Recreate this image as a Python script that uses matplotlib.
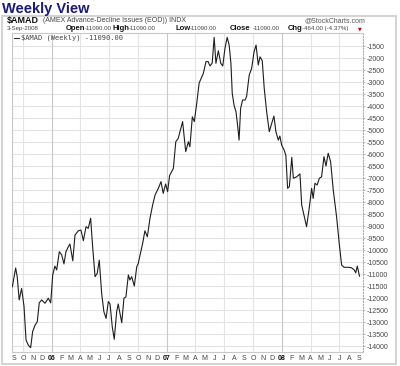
#!/usr/bin/env python3
"""
Weekly view of $AMAD (AMEX Advance-Decline Issues) in the StockCharts style
"""
import numpy as np
import pandas as pd
import matplotlib
matplotlib.use('Agg')
import matplotlib.pyplot as plt
from matplotlib.patches import Rectangle

plt.rcParams['font.family'] = ['Liberation Sans', 'DejaVu Sans']
plt.rcParams['axes.unicode_minus'] = False

# weeks after 26-Aug-2005 and the index level
weeks = [0.3, 1.8, 2.5, 3.4, 4.5, 5.6, 6.5, 7.5, 8.6, 9.5, 10.6, 11.6, 12.5, 13.6,
         15.1, 16.6, 17.7, 18.6, 19.6, 20.4, 21.6, 22.7, 23.7, 24.6, 25.7, 26.4,
         27.7, 28.7, 30.2, 31.4, 32.5, 33.7, 34.7, 35.8, 36.7, 37.8, 38.8, 39.7,
         40.8, 41.8, 42.8, 43.8, 44.6, 45.6, 46.5, 47.6, 48.3, 49.1, 49.9, 50.9,
         51.8, 52.9, 53.6, 54.4, 55.6, 56.7, 57.4, 58.2, 59.4, 60.4, 61.5, 62.7,
         63.9, 65.0, 66.5, 67.7, 68.7, 69.8, 70.7, 71.6, 73.3, 74.4, 75.5, 77.5,
         78.9, 80.1, 80.8, 81.9, 82.8, 83.9, 85.0, 86.9, 88.1, 89.1, 89.9, 90.9,
         91.8, 92.6, 93.7, 94.8, 95.7, 96.7, 97.7, 98.6, 99.4, 100.0, 100.8, 101.7,
         102.5, 103.1, 103.8, 104.7, 105.8, 106.5, 107.7, 108.8, 109.9, 110.8,
         111.8, 112.6, 113.6, 114.5, 115.6, 116.8, 117.9, 118.9, 119.8, 120.9,
         121.6, 122.4, 123.5, 124.3, 125.1, 125.9, 127.0, 127.7, 129.2, 130.7,
         131.5, 132.7, 133.7, 134.9, 136.0, 136.7, 137.5, 138.5, 139.5, 140.5,
         141.6, 142.5, 143.5, 144.6, 145.8, 147.3, 148.5, 149.6, 150.7, 152.6,
         154.1, 155.3, 156.0, 156.7, 157.7]
amad = [-11530, -10750, -11110, -12080, -11600, -12360, -13750, -13960, -14070, -13400,
        -13130, -12990, -12200, -12080, -12220, -12010, -12200, -11040, -10670, -10830,
        -10070, -10210, -10580, -10070, -9860, -9750, -10450, -9380, -9200, -9170,
        -9610, -9030, -9100, -8680, -9860, -11110, -10970, -10420, -11810, -12570,
        -12850, -12150, -12250, -13200, -13720, -12570, -12250, -12640, -13030, -12010,
        -11950, -11040, -11250, -11110, -11500, -10700, -10560, -10210, -9720, -9200,
        -9450, -8680, -8130, -7710, -7430, -7150, -7640, -7250, -7570, -6900,
        -6600, -5490, -5350, -4650, -5900, -5490, -5700, -4450, -4650, -3890,
        -3040, -2640, -2150, -2150, -2330, -2220, -1140, -2220, -1700, -2220,
        -2330, -1600, -1140, -1460, -2220, -3470, -3960, -4240, -4860, -5420,
        -4100, -3750, -3750, -3610, -2710, -2430, -1740, -1460, -2290, -1950,
        -2110, -3260, -4240, -5070, -4720, -4420, -5070, -5420, -5250, -5630,
        -5830, -6050, -7430, -7360, -6140, -7010, -6950, -6830, -8130, -8610,
        -9030, -8260, -7430, -7850, -7220, -7290, -7010, -6950, -6110, -6500,
        -5970, -6320, -7500, -8610, -9720, -10630, -10720, -10720, -10740, -10830,
        -10950, -10670, -11090]

y_ticks = list(range(-1500, -14001, -500))
month_letters = ['J', 'F', 'M', 'A', 'M', 'J', 'J', 'A', 'S', 'O', 'N', 'D']

W, H = 400, 366


def fx(px):
    return px / W


def fy(py):
    return 1 - py / H


def main():
    start = pd.Timestamp('2005-08-26')
    dates = [start + pd.Timedelta(days=w * 7) for w in weeks]

    fig = plt.figure(figsize=(W / 100, H / 100), dpi=100)
    fig.patch.set_facecolor('white')

    # panel frame (behind the axes)
    fig.patches.append(Rectangle((fx(1.5), fy(364)), fx(396) - fx(1.5), fy(16) - fy(364),
                                 transform=fig.transFigure, facecolor='none',
                                 edgecolor='#d4d4d4', linewidth=1.5, zorder=-5))

    ax = fig.add_axes([fx(12), fy(352), fx(363) - fx(12), fy(33) - fy(352)])
    ax.set_zorder(2)
    ax.set_facecolor('white')

    # grid
    for v in y_ticks:
        ax.axhline(v, color='#e3e3e3', linewidth=0.8, zorder=1)
    for d in pd.date_range('2005-10-01', '2008-07-01', freq='QS'):
        col = '#c8c8c8' if d.month == 1 else '#e3e3e3'
        ax.axvline(d, color=col, linewidth=0.8, zorder=1)

    ax.plot(dates, amad, color='#1e1e1e', linewidth=0.8, zorder=3)

    ax.set_ylim(-14250, -958)
    ax.set_xlim(pd.Timestamp('2005-08-27'), pd.Timestamp('2008-09-14'))

    # y axis on the right
    ax.yaxis.tick_right()
    ax.set_yticks(y_ticks)
    ax.set_yticklabels([str(v) for v in y_ticks])
    ax.tick_params(axis='y', length=1.5, width=0.5, colors='#999999', labelsize=5,
                   labelcolor='#444444', pad=1)

    # month letters, year numbers at January
    months = pd.date_range('2005-09-01', '2008-09-01', freq='MS')
    ax.set_xticks(months)
    labels = []
    for m in months:
        labels.append(f"{m.year % 100:02d}" if m.month == 1 else month_letters[m.month - 1])
    ax.set_xticklabels(labels)
    ax.tick_params(axis='x', length=0, labelsize=5, labelcolor='#444444', pad=2.5)
    for lab, m in zip(ax.get_xticklabels(), months):
        if m.month == 1:
            lab.set_fontweight('bold')
            lab.set_color('#111111')

    for side in ['left', 'top', 'bottom']:
        ax.spines[side].set_color('#c8c8c8')
        ax.spines[side].set_linewidth(0.8)
    ax.spines['right'].set_color('#aaaaaa')
    ax.spines['right'].set_linestyle(':')
    ax.spines['right'].set_linewidth(0.8)

    # header texts
    fig.text(fx(2), fy(8.5), 'Weekly View', fontsize=10.5, fontweight='bold',
             color='#1a1a7e', va='center', ha='left')
    fig.text(fx(7), fy(21), '$AMAD', fontsize=6.5, fontweight='bold',
             color='#111111', va='center', ha='left')
    fig.text(fx(43), fy(21), '(AMEX Advance-Decline Issues (EOD)) INDX', fontsize=5,
             color='#444444', va='center', ha='left')
    fig.text(fx(365), fy(21), '@StockCharts.com', fontsize=5, color='#555555',
             va='center', ha='right')

    row = [(7, '3-Sep-2008', False), (66, 'Open', True), (85, '-11090.00', False),
           (113, 'High', True), (129, '-11090.00', False), (175, 'Low', True),
           (190, '-11090.00', False), (230, 'Close', True), (253, '-11090.00', False),
           (288, 'Chg', True), (302, '-464.00 (-4.37%)', False)]
    for px, txt, bold in row:
        fig.text(fx(px), fy(28.5), txt, fontsize=5.5 if bold else 4.4,
                 fontweight='bold' if bold else 'normal',
                 color='#111111' if bold else '#444444', va='center', ha='left')
    fig.text(fx(360), fy(28.5), '\u25bc', fontsize=3.5, color='#cc0000',
             va='center', ha='center', family='DejaVu Sans')

    # legend
    ax.plot([0.006, 0.02], [0.984, 0.984], transform=ax.transAxes, color='#333333',
            linewidth=0.8, clip_on=False, zorder=4)
    ax.text(0.025, 0.984, '$AMAD (Weekly) -11090.00', transform=ax.transAxes,
            fontsize=5, color='#444444', va='center', ha='left',
            family='DejaVu Sans Mono', zorder=4)

    fig.savefig('out.png', dpi=100, facecolor='white')
    plt.close(fig)


if __name__ == '__main__':
    main()
